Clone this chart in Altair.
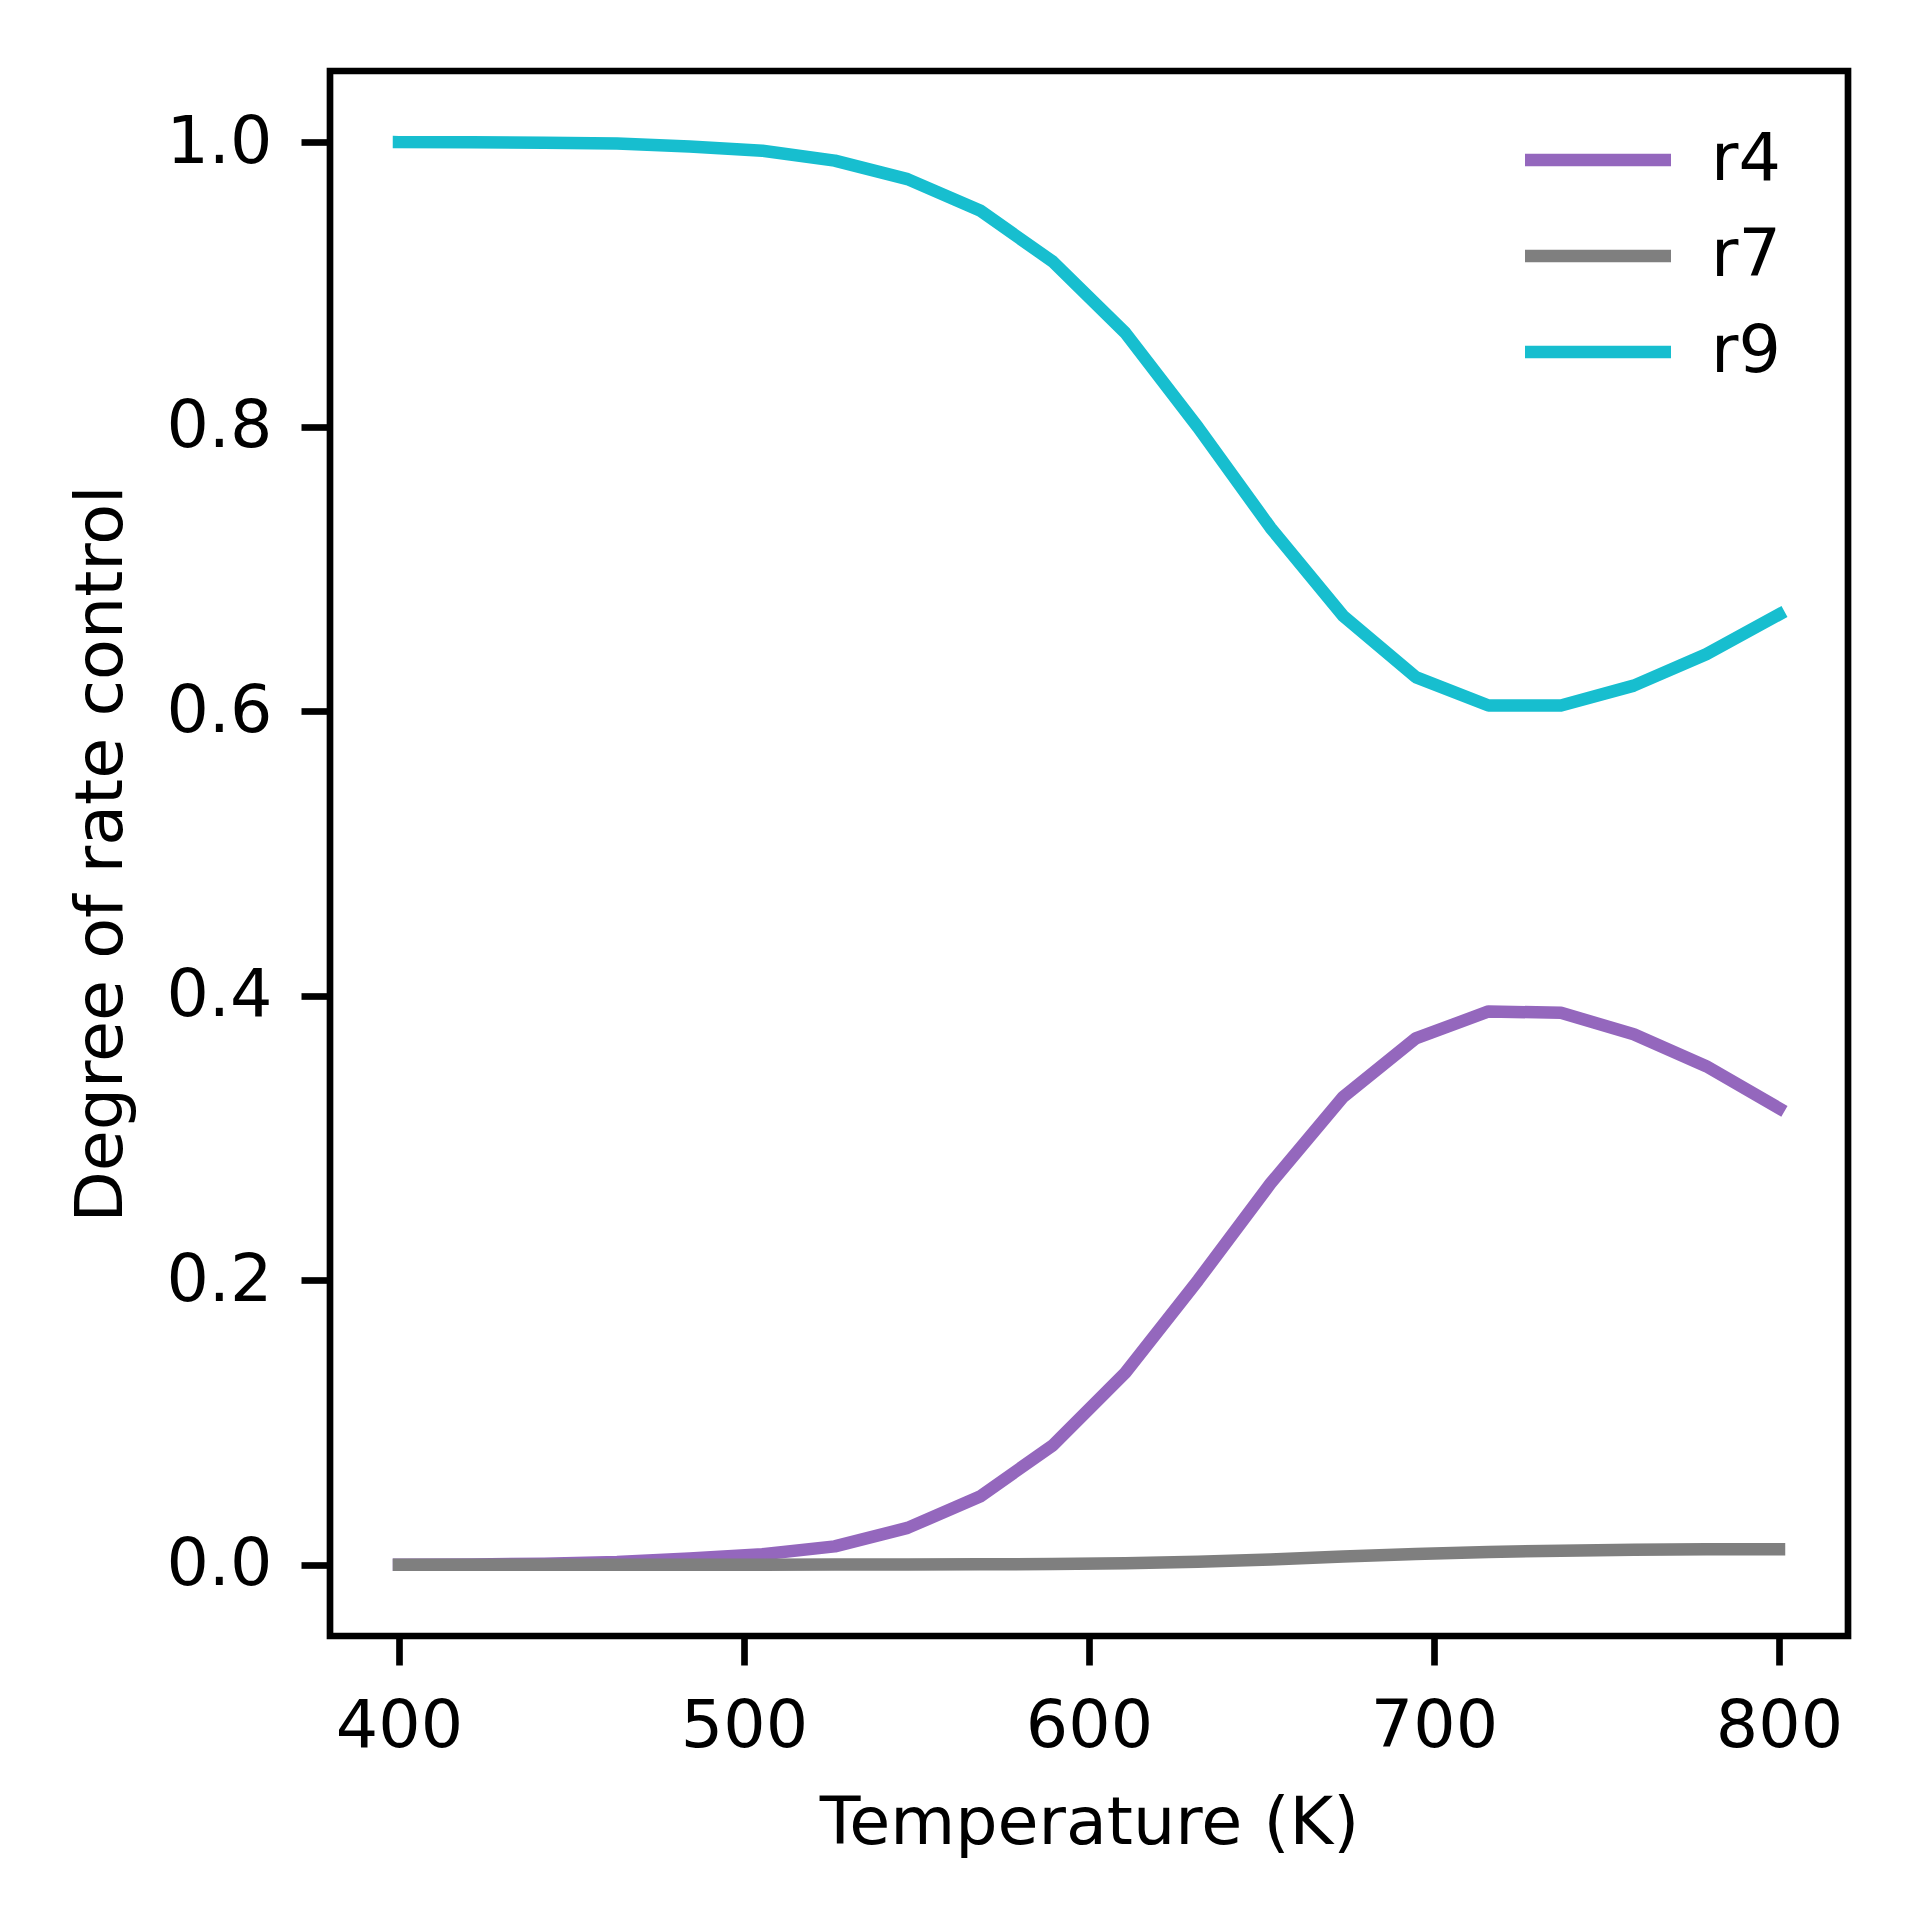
import altair as alt
import pandas as pd

# Temperatures (K) at which the degree of rate control was evaluated
temperature = [400.0, 421.1, 442.1, 463.2, 484.2, 505.3, 526.3, 547.4, 568.4, 589.5,
               610.5, 631.6, 652.6, 673.7, 694.7, 715.8, 736.8, 757.9, 778.9, 800.0]

# Degree of rate control for each elementary step
drc_r4 = [0.0001, 0.0003, 0.0008, 0.0020, 0.0045, 0.0075, 0.0130, 0.0260, 0.0480, 0.0840,
          0.1350, 0.2000, 0.2680, 0.3290, 0.3700, 0.3890, 0.3880, 0.3730, 0.3505, 0.3210]
drc_r7 = [0.0000, 0.0000, 0.0000, 0.0000, 0.0000, 0.0001, 0.0002, 0.0003, 0.0004, 0.0006,
          0.0012, 0.0022, 0.0038, 0.0058, 0.0076, 0.0091, 0.0100, 0.0106, 0.0109, 0.0110]
drc_r9 = [1.0000, 0.9999, 0.9995, 0.9990, 0.9970, 0.9940, 0.9870, 0.9740, 0.9520, 0.9160,
          0.8660, 0.7995, 0.7290, 0.6670, 0.6240, 0.6040, 0.6040, 0.6180, 0.6400, 0.6680]

steps = ["r4", "r7", "r9"]
step_colors = ["#9467bd", "#7f7f7f", "#17becf"]

rows = []
for name, series in zip(steps, [drc_r4, drc_r7, drc_r9]):
    for t, v in zip(temperature, series):
        rows.append({"T": t, "drc": v, "step": name})
df = pd.DataFrame(rows)

FONT = "DejaVu Sans"
FS = 66.7      # 8 pt at 600 dpi
LW = 12.5      # 1.5 pt
SPINE = 6.67   # 0.8 pt

# legend handle: a horizontal stroke twice as long as the nominal symbol size
HANDLE = "M-2,0L2,0"

chart = alt.Chart(df).mark_line(
    strokeWidth=LW, strokeCap="square", strokeJoin="round"
).encode(
    x=alt.X("T:Q",
            scale=alt.Scale(domain=[380, 820], nice=False, zero=False),
            axis=alt.Axis(title="Temperature (K)", values=[400, 500, 600, 700, 800],
                          format="d", titleY=207, titleBaseline="alphabetic",
                          labelPadding=28)),
    y=alt.Y("drc:Q",
            scale=alt.Scale(domain=[-0.05, 1.05], nice=False, zero=False),
            axis=alt.Axis(title="Degree of rate control",
                          values=[0.0, 0.2, 0.4, 0.6, 0.8, 1.0], format=".1f",
                          titleAngle=270, titleX=-209, titleY=782.5,
                          titleBaseline="alphabetic", titleAlign="center",
                          labelPadding=29)),
    color=alt.Color("step:N",
                    scale=alt.Scale(domain=steps, range=step_colors),
                    legend=alt.Legend(title=None, orient="none",
                                      legendX=1225, legendY=46,
                                      symbolType=HANDLE, symbolSize=5329,
                                      symbolStrokeWidth=LW, labelFontSize=FS,
                                      labelFont=FONT, labelColor="black",
                                      labelOffset=70, rowPadding=19, padding=0)),
    order=alt.Order("step:N"),
).properties(
    width=1518, height=1565,
    background="white",
    autosize=alt.AutoSizeParams(type="none"),
    padding={"left": 330, "top": 71, "right": 72, "bottom": 284},
).configure_view(
    stroke="black", strokeWidth=SPINE, fill="white"
).configure_axis(
    domain=False, grid=False,
    ticks=True, tickColor="black", tickWidth=SPINE, tickSize=29,
    labelFont=FONT, labelFontSize=FS, labelColor="black",
    titleFont=FONT, titleFontSize=FS, titleFontWeight="normal", titleColor="black",
)

chart.save("out.html", embed_options={"renderer": "svg", "actions": False})
